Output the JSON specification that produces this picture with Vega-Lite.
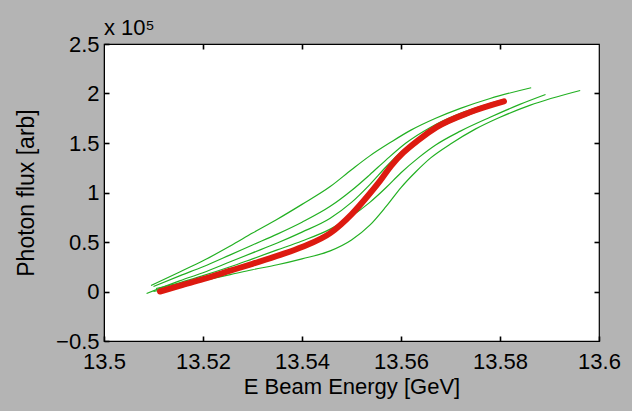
{
  "$schema": "https://vega.github.io/schema/vega-lite/v6.json",
  "width": 495,
  "height": 297,
  "autosize": {"type": "none"},
  "padding": {"left": 104, "top": 44, "right": 33, "bottom": 70},
  "background": "#b4b4b4",
  "config": {
    "view": {"fill": "white", "stroke": "black", "strokeWidth": 1.2},
    "font": "Liberation Sans",
    "axis": {
      "grid": false,
      "zindex": 1,
      "domainColor": "black",
      "tickColor": "black",
      "tickSize": -5,
      "tickWidth": 1.6,
      "labelColor": "black",
      "labelFont": "Liberation Sans",
      "labelFontSize": 22,
      "titleFont": "Liberation Sans",
      "titleFontSize": 22,
      "titleFontWeight": "normal",
      "titleColor": "black",
      "labelFlush": false,
      "labelOverlap": false
    },
    "title": {"font": "Liberation Sans", "fontSize": 22, "fontWeight": "normal", "color": "black"}
  },
  "title": {"text": "x 10⁵", "anchor": "start", "frame": "group", "offset": -7},
  "datasets": {
    "green": [
      {"series": "A", "E": 13.5095, "flux": 0.06},
      {"series": "A", "E": 13.5154, "flux": 0.2},
      {"series": "A", "E": 13.52, "flux": 0.31},
      {"series": "A", "E": 13.5255, "flux": 0.46},
      {"series": "A", "E": 13.53, "flux": 0.59},
      {"series": "A", "E": 13.535, "flux": 0.73},
      {"series": "A", "E": 13.54, "flux": 0.88},
      {"series": "A", "E": 13.5457, "flux": 1.06},
      {"series": "A", "E": 13.55, "flux": 1.23},
      {"series": "A", "E": 13.5537, "flux": 1.37},
      {"series": "A", "E": 13.558, "flux": 1.51},
      {"series": "A", "E": 13.562, "flux": 1.63},
      {"series": "A", "E": 13.567, "flux": 1.75},
      {"series": "A", "E": 13.572, "flux": 1.85},
      {"series": "A", "E": 13.578, "flux": 1.95},
      {"series": "A", "E": 13.5863, "flux": 2.058},
      {"series": "B", "E": 13.51, "flux": 0.05},
      {"series": "B", "E": 13.5154, "flux": 0.16},
      {"series": "B", "E": 13.52, "flux": 0.25},
      {"series": "B", "E": 13.5255, "flux": 0.37},
      {"series": "B", "E": 13.53, "flux": 0.47},
      {"series": "B", "E": 13.535, "flux": 0.58},
      {"series": "B", "E": 13.54, "flux": 0.7},
      {"series": "B", "E": 13.5457, "flux": 0.86},
      {"series": "B", "E": 13.55, "flux": 1.02},
      {"series": "B", "E": 13.5537, "flux": 1.18},
      {"series": "B", "E": 13.557, "flux": 1.33},
      {"series": "B", "E": 13.561, "flux": 1.5},
      {"series": "B", "E": 13.566, "flux": 1.66},
      {"series": "B", "E": 13.572, "flux": 1.8},
      {"series": "B", "E": 13.578, "flux": 1.9},
      {"series": "B", "E": 13.5808, "flux": 1.94},
      {"series": "C", "E": 13.5086, "flux": -0.02},
      {"series": "C", "E": 13.5154, "flux": 0.11},
      {"series": "C", "E": 13.52, "flux": 0.19},
      {"series": "C", "E": 13.5255, "flux": 0.3},
      {"series": "C", "E": 13.53, "flux": 0.39},
      {"series": "C", "E": 13.535, "flux": 0.49},
      {"series": "C", "E": 13.54, "flux": 0.6},
      {"series": "C", "E": 13.5457, "flux": 0.74},
      {"series": "C", "E": 13.55, "flux": 0.9},
      {"series": "C", "E": 13.5537, "flux": 1.08},
      {"series": "C", "E": 13.557, "flux": 1.26},
      {"series": "C", "E": 13.56, "flux": 1.41},
      {"series": "C", "E": 13.565, "flux": 1.58},
      {"series": "C", "E": 13.57, "flux": 1.71},
      {"series": "C", "E": 13.576, "flux": 1.83},
      {"series": "C", "E": 13.5808, "flux": 1.93},
      {"series": "D", "E": 13.5105, "flux": 0.03},
      {"series": "D", "E": 13.5154, "flux": 0.09},
      {"series": "D", "E": 13.52, "flux": 0.16},
      {"series": "D", "E": 13.5255, "flux": 0.25},
      {"series": "D", "E": 13.53, "flux": 0.33},
      {"series": "D", "E": 13.535, "flux": 0.42},
      {"series": "D", "E": 13.54, "flux": 0.51},
      {"series": "D", "E": 13.5457, "flux": 0.63},
      {"series": "D", "E": 13.55, "flux": 0.76},
      {"series": "D", "E": 13.5537, "flux": 0.9},
      {"series": "D", "E": 13.557, "flux": 1.05},
      {"series": "D", "E": 13.56, "flux": 1.2},
      {"series": "D", "E": 13.5635, "flux": 1.35},
      {"series": "D", "E": 13.567, "flux": 1.48},
      {"series": "D", "E": 13.572, "flux": 1.62},
      {"series": "D", "E": 13.578, "flux": 1.76},
      {"series": "D", "E": 13.584, "flux": 1.89},
      {"series": "D", "E": 13.5892, "flux": 1.99},
      {"series": "E", "E": 13.51, "flux": 0.0},
      {"series": "E", "E": 13.5154, "flux": 0.06},
      {"series": "E", "E": 13.52, "flux": 0.11},
      {"series": "E", "E": 13.5255, "flux": 0.17},
      {"series": "E", "E": 13.53, "flux": 0.22},
      {"series": "E", "E": 13.535, "flux": 0.27},
      {"series": "E", "E": 13.54, "flux": 0.33},
      {"series": "E", "E": 13.5457, "flux": 0.41},
      {"series": "E", "E": 13.55, "flux": 0.52},
      {"series": "E", "E": 13.5537, "flux": 0.67},
      {"series": "E", "E": 13.557, "flux": 0.86},
      {"series": "E", "E": 13.56, "flux": 1.05},
      {"series": "E", "E": 13.563, "flux": 1.21},
      {"series": "E", "E": 13.566, "flux": 1.35},
      {"series": "E", "E": 13.57, "flux": 1.49},
      {"series": "E", "E": 13.575, "flux": 1.64},
      {"series": "E", "E": 13.58, "flux": 1.76},
      {"series": "E", "E": 13.586, "flux": 1.88},
      {"series": "E", "E": 13.5962, "flux": 2.03}
    ],
    "red": [
      {"E": 13.5113, "flux": 0.0},
      {"E": 13.5154, "flux": 0.06},
      {"E": 13.52, "flux": 0.125},
      {"E": 13.5255, "flux": 0.21},
      {"E": 13.53, "flux": 0.28},
      {"E": 13.5356, "flux": 0.37},
      {"E": 13.54, "flux": 0.45},
      {"E": 13.5457, "flux": 0.59},
      {"E": 13.55, "flux": 0.78},
      {"E": 13.5537, "flux": 0.99},
      {"E": 13.5558, "flux": 1.12},
      {"E": 13.558, "flux": 1.27},
      {"E": 13.5604, "flux": 1.4},
      {"E": 13.5635, "flux": 1.53},
      {"E": 13.5672, "flux": 1.66},
      {"E": 13.5739, "flux": 1.81},
      {"E": 13.5808, "flux": 1.92}
    ]
  },
  "layer": [
    {
      "data": {"name": "green"},
      "mark": {"type": "line", "color": "#22b022", "strokeWidth": 1.2, "interpolate": "monotone"},
      "encoding": {
        "x": {"field": "E", "type": "quantitative", "scale": {"domain": [13.5, 13.6], "nice": false, "zero": false},
              "axis": {"orient": "bottom", "values": [13.5, 13.52, 13.54, 13.56, 13.58, 13.6], "format": "~g", "title": "E Beam Energy [GeV]", "labelPadding": 15, "titlePadding": 4}},
        "y": {"field": "flux", "type": "quantitative", "scale": {"domain": [-0.5, 2.5], "nice": false, "zero": false},
              "axis": {"orient": "left", "values": [-0.5, 0, 0.5, 1, 1.5, 2, 2.5], "format": "~g", "title": "Photon flux [arb]", "titleFontSize": 23, "labelPadding": 10, "titlePadding": 17}},
        "detail": {"field": "series"}
      }
    },
    {
      "data": {"name": "red"},
      "mark": {"type": "line", "color": "#dd1a10", "strokeWidth": 6, "strokeCap": "round", "interpolate": "monotone"},
      "encoding": {
        "x": {"field": "E", "type": "quantitative",
              "axis": {"orient": "top", "values": [13.52, 13.54, 13.56, 13.58], "labels": false, "title": null, "domain": false}},
        "y": {"field": "flux", "type": "quantitative",
              "axis": {"orient": "right", "values": [0, 0.5, 1, 1.5, 2], "labels": false, "title": null, "domain": false}}
      }
    }
  ],
  "resolve": {"axis": {"x": "independent", "y": "independent"}}
}
